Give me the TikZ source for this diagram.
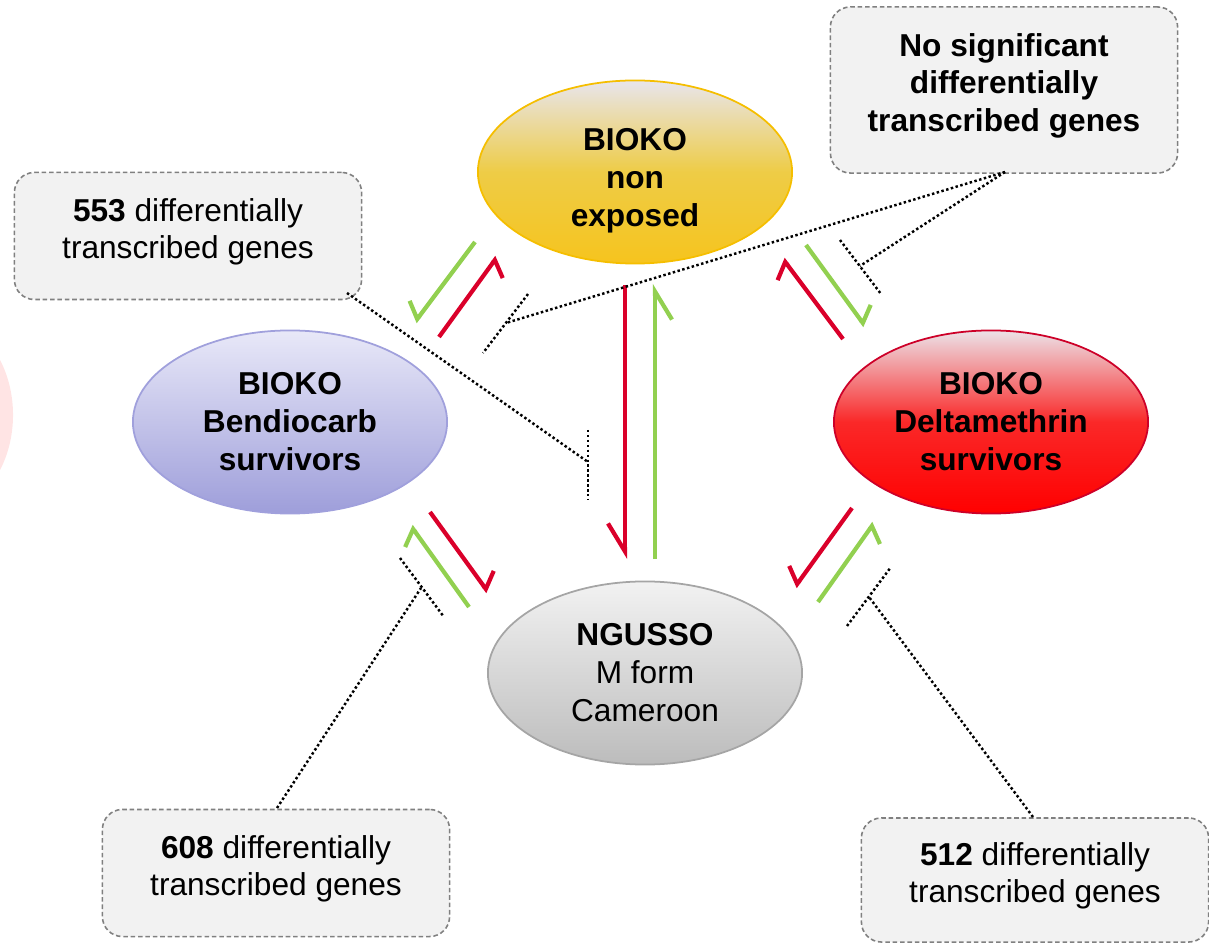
\documentclass[tikz,border=0pt]{standalone}
\usepackage{fontspec}
\setmainfont{Liberation Sans}
\usetikzlibrary{shapes.geometric,arrows.meta}

\definecolor{harpred}{RGB}{218,0,42}
\definecolor{harpgreen}{RGB}{146,208,80}
\definecolor{notegray}{RGB}{128,128,128}
\definecolor{notefill}{RGB}{242,242,242}
\newcommand{\lowend}{\rule[-0.15cm]{0pt}{0pt}}

\begin{document}
\begin{tikzpicture}[x=0.01cm,y=-0.01cm,
    pop/.style={ellipse,draw,line width=0.5pt,minimum width=3.14cm,minimum height=1.83cm,
        inner sep=0pt,align=center,font=\fontsize{9}{10.8}\selectfont\bfseries},
    note/.style={draw=notegray,fill=notefill,dash pattern=on 1.3pt off 0.8pt,line width=0.45pt,
        rounded corners=0.2cm,minimum width=3.47cm,minimum height=1.27cm,inner sep=0pt,
        align=center,font=\fontsize{9}{10.6}\selectfont},
    hl/.style={line width=1.2pt,-{Straight Barb[harpoon,length=#1,width=3.4mm]}},
    hr/.style={line width=1.2pt,-{Straight Barb[harpoon,swap,length=#1,width=3.4mm]}},
    link/.style={line width=0.7pt,dash pattern=on 0.7pt off 0.7pt},
  ]
  \useasboundingbox (0,0) rectangle (1209,943);

  % faint shape cut by the left edge
  \begin{scope}
    \clip (0,0) rectangle (1209,943);
    \fill[red!15,opacity=0.7] (-80,415) ellipse [x radius=0.93cm, y radius=1.08cm];
  \end{scope}

  % populations
  \node[pop,draw={rgb,255:red,245;green,190;blue,0},top color={rgb,255:red,232;green,229;blue,236},
    bottom color={rgb,255:red,246;green,196;blue,30},middle color={rgb,255:red,238;green,204;blue,70}]
    (nonexp) at (635,172) {\rule{0pt}{0.39cm}BIOKO\\non\\exposed};
  \node[pop,draw={rgb,255:red,160;green,160;blue,220},top color={rgb,255:red,232;green,232;blue,248},
    bottom color={rgb,255:red,158;green,158;blue,218}]
    (bendio) at (290,422) {BIOKO\\Bendiocarb\\survivors};
  \node[pop,draw={rgb,255:red,205;green,0;blue,40},top color={rgb,255:red,236;green,226;blue,232},
    bottom color={rgb,255:red,255;green,0;blue,0},middle color={rgb,255:red,250;green,40;blue,40}]
    (delta) at (991,422) {BIOKO\\Deltamethrin\\survivors};
  \node[pop,draw={rgb,255:red,165;green,165;blue,165},top color={rgb,255:red,242;green,242;blue,242},
    bottom color={rgb,255:red,188;green,188;blue,188}]
    (ngusso) at (645,673) {NGUSSO\\\mdseries M form\\\mdseries Cameroon};

  % counts
  \node[note] (n553) at (188,236) {\textbf{553} differentially\\transcribed genes\lowend};
  \node[note,minimum height=1.66cm] (nnone) at (1004,90)
    {\bfseries No significant\\\bfseries differentially\\\bfseries transcribed genes\lowend};
  \node[note] (n608) at (276,873) {\textbf{608} differentially\\transcribed genes\lowend};
  \node[note,minimum height=1.24cm] (n512) at (1035,880) {\textbf{512} differentially\\transcribed genes\lowend};

  % harpoons
  \coordinate (tlr1) at (439,337); \coordinate (tlr2) at (497,257);
  \coordinate (tlg1) at (475,242); \coordinate (tlg2) at (415,322);
  \coordinate (trr1) at (843,339); \coordinate (trr2) at (783,259);
  \coordinate (trg1) at (806,245); \coordinate (trg2) at (865,326);
  \coordinate (vr1) at (625,285);  \coordinate (vr2) at (625,559);
  \coordinate (vg1) at (655,559);  \coordinate (vg2) at (655,284);
  \coordinate (blr1) at (430,512); \coordinate (blr2) at (488,592);
  \coordinate (blg1) at (469,607); \coordinate (blg2) at (411,526);
  \coordinate (brr1) at (852,508); \coordinate (brr2) at (795,587);
  \coordinate (brg1) at (818,602); \coordinate (brg2) at (874,523);

  \draw[hr=1mm,harpred] (tlr1) -- (tlr2);
  \draw[hr=1mm,harpgreen] (tlg1) -- (tlg2);
  \draw[hl=1mm,harpred] (trr1) -- (trr2);
  \draw[hl=1mm,harpgreen] (trg1) -- (trg2);
  \draw[hr=2.8mm,harpred] (vr1) -- (vr2);
  \draw[hr=2.8mm,harpgreen] (vg1) -- (vg2);
  \draw[hl=1mm,harpred] (blr1) -- (blr2);
  \draw[hl=1mm,harpgreen] (blg1) -- (blg2);
  \draw[hr=1mm,harpred] (brr1) -- (brr2);
  \draw[hr=1mm,harpgreen] (brg1) -- (brg2);

  % dotted links with bars
  \coordinate (s553) at (347,293);  \coordinate (e553) at (588,462);
  \coordinate (snone) at (1005,172);
  \coordinate (ea) at (506,323);    \coordinate (eb) at (860,266);
  \coordinate (s608) at (277,808);  \coordinate (e608) at (421,588);
  \coordinate (s512) at (1033,817); \coordinate (e512) at (869,597);

  \draw[link] (s553) -- (e553);
  \draw[link] (588,430) -- (588,499);
  \draw[link] (snone) -- (ea);
  \draw[link] (528,294) -- (483,353);
  \draw[link] (snone) -- (eb);
  \draw[link] (840,240) -- (881,294);
  \draw[link] (s608) -- (e608);
  \draw[link] (400,558) -- (444,617);
  \draw[link] (s512) -- (e512);
  \draw[link] (847,626) -- (891,567);
\end{tikzpicture}
\end{document}
